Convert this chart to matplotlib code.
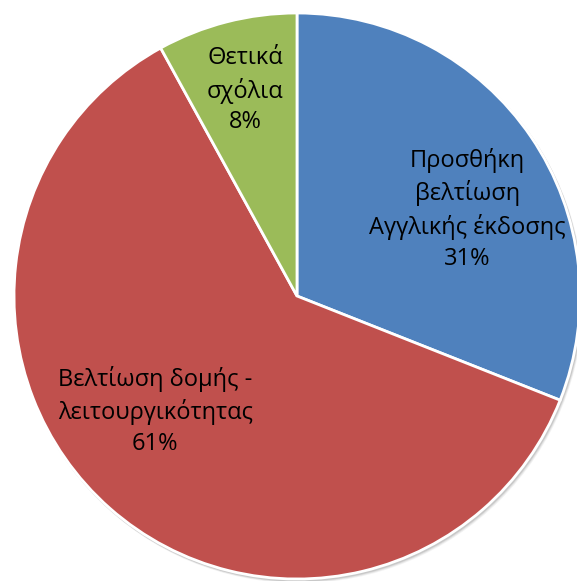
import matplotlib.pyplot as plt
import matplotlib.patches as mpatches
import numpy as np

# Κατηγορίες σχολίων και ποσοστά
categories = ['Προσθήκη\nβελτίωση\nΑγγλικής έκδοσης',
              'Βελτίωση δομής -\nλειτουργικότητας',
              'Θετικά\nσχόλια']
shares = [31, 61, 8]
colors = ['#4F81BD', '#C0504D', '#9BBB59']

# θέση ετικέτας: (γωνία από την κορυφή δεξιόστροφα σε μοίρες, απόσταση σε ακτίνες)
label_pos = [(63.0, 0.675), (231.0, 0.645), (345.8, 0.75)]

W, H = 577, 581
cx, cy, r = 297, H - 296, 283

fig = plt.figure(figsize=(W / 100, H / 100), dpi=100)
ax = fig.add_axes([0, 0, 1, 1])

# απαλή σκιά κάτω δεξιά
for k, a in [(4, 0.10), (3, 0.15), (2, 0.25)]:
    ax.add_patch(mpatches.Circle((cx + k * 0.6, cy - k * 0.8), r + 1,
                                 color='#808080', alpha=a, lw=0, zorder=0))

wedges, _ = ax.pie(shares, colors=colors, startangle=90, counterclock=False,
                   center=(cx, cy), radius=r, frame=True,
                   wedgeprops=dict(edgecolor='white', linewidth=2))
for w in wedges:
    w.set_zorder(1)
ax.set_xlim(0, W)
ax.set_ylim(0, H)
ax.set_aspect('equal')
ax.axis('off')

for name, val, (ang, dist) in zip(categories, shares, label_pos):
    t = np.deg2rad(ang)
    x = cx + dist * r * np.sin(t)
    y = cy + dist * r * np.cos(t)
    ax.text(x, y, f'{name}\n{val}%', ha='center', va='center',
            fontsize=17, linespacing=1.38, color='black',
            family=['Open Sans', 'DejaVu Sans'], zorder=3)

fig.savefig('out.png', dpi=100)
